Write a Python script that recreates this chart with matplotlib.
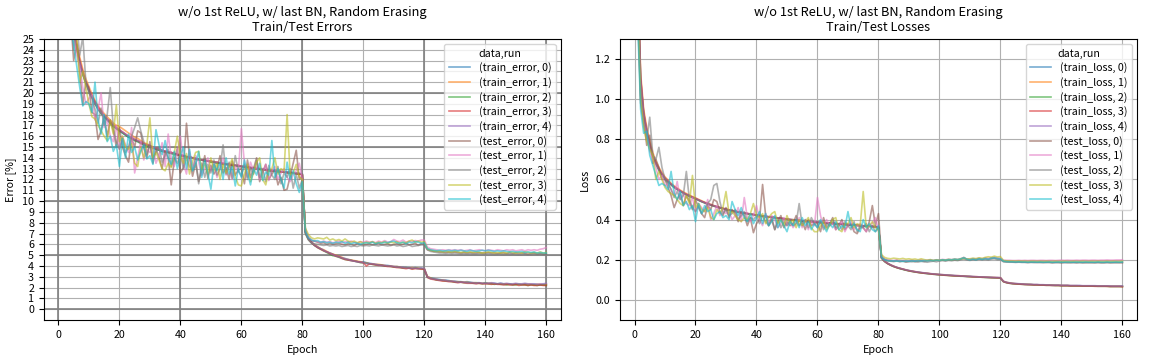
import numpy as np
import pandas as pd
import matplotlib
matplotlib.use('Agg')
import matplotlib.pyplot as plt

plt.rcParams['font.family'] = ['Noto Sans CJK JP', 'DejaVu Sans']
plt.rcParams['font.size'] = 7.7

# --- data ----------------------------------------------------------
epochs = np.arange(1, 161)
runs = [0, 1, 2, 3, 4]

train_error_0 = [
    55.2, 40.8, 33.1, 28.5, 25.8, 24.2, 22.8, 21.7, 20.9, 20.2,
    19.6, 19.0, 18.5, 18.1, 17.8, 17.5, 17.2, 16.9, 16.7, 16.5,
    16.3, 16.1, 15.9, 15.8, 15.6, 15.5, 15.4, 15.2, 15.1, 15.0,
    14.9, 14.8, 14.7, 14.6, 14.6, 14.5, 14.4, 14.4, 14.3, 14.2,
    14.2, 14.1, 14.0, 14.0, 13.9, 13.8, 13.8, 13.7, 13.7, 13.6,
    13.6, 13.5, 13.5, 13.4, 13.4, 13.4, 13.3, 13.3, 13.2, 13.2,
    13.2, 13.1, 13.1, 13.0, 13.0, 13.0, 12.9, 12.9, 12.9, 12.8,
    12.8, 12.8, 12.7, 12.7, 12.7, 12.6, 12.6, 12.6, 12.5, 12.5,
    7.1, 6.5, 6.2, 5.9, 5.75, 5.6, 5.45, 5.3, 5.2, 5.1,
    4.95, 4.85, 4.75, 4.7, 4.6, 4.55, 4.45, 4.4, 4.35, 4.4,
    4.3, 4.25, 4.2, 4.15, 4.1, 4.1, 4.05, 4.05, 4.0, 3.95,
    3.95, 3.9, 3.9, 3.85, 3.85, 3.8, 3.85, 3.8, 3.8, 3.75,
    3.0, 2.9, 2.85, 2.8, 2.75, 2.7, 2.7, 2.65, 2.6, 2.6,
    2.55, 2.55, 2.5, 2.55, 2.5, 2.45, 2.45, 2.45, 2.4, 2.45,
    2.4, 2.4, 2.4, 2.35, 2.4, 2.35, 2.35, 2.35, 2.3, 2.35,
    2.3, 2.3, 2.35, 2.3, 2.3, 2.3, 2.3, 2.25, 2.3, 2.3]
train_error_1 = [
    56.0, 41.5, 33.8, 29.2, 26.4, 24.8, 23.3, 22.2, 21.3, 20.6,
    19.9, 19.3, 18.8, 18.4, 18.1, 17.8, 17.5, 17.2, 17.0, 16.9,
    16.7, 16.5, 16.3, 16.1, 15.9, 15.8, 15.6, 15.4, 15.3, 15.1,
    15.0, 14.9, 14.8, 14.7, 14.6, 14.5, 14.5, 14.4, 14.3, 14.3,
    14.2, 14.1, 14.1, 14.0, 13.9, 13.9, 13.8, 13.8, 13.7, 13.7,
    13.6, 13.6, 13.5, 13.5, 13.4, 13.4, 13.3, 13.3, 13.3, 13.2,
    13.2, 13.1, 13.1, 13.1, 13.0, 13.0, 12.9, 12.9, 12.9, 12.8,
    12.8, 12.8, 12.7, 12.7, 12.7, 12.6, 12.6, 12.6, 12.5, 12.5,
    7.2, 6.55, 6.2, 6.0, 5.8, 5.6, 5.5, 5.35, 5.2, 5.1,
    5.0, 4.9, 4.8, 4.65, 4.6, 4.55, 4.5, 4.45, 4.4, 4.3,
    4.3, 4.2, 4.2, 4.15, 4.15, 4.1, 4.05, 4.0, 4.0, 3.95,
    3.95, 3.9, 3.85, 3.85, 3.8, 3.85, 3.8, 3.8, 3.75, 3.75,
    3.05, 2.9, 2.8, 2.75, 2.7, 2.7, 2.65, 2.6, 2.6, 2.55,
    2.55, 2.5, 2.5, 2.5, 2.45, 2.45, 2.45, 2.4, 2.4, 2.4,
    2.4, 2.4, 2.35, 2.35, 2.35, 2.35, 2.35, 2.3, 2.3, 2.3,
    2.3, 2.3, 2.3, 2.3, 2.3, 2.25, 2.3, 2.3, 2.25, 2.3]
train_error_2 = [
    54.5, 40.2, 32.8, 28.4, 25.7, 24.1, 22.8, 21.7, 20.9, 20.2,
    19.6, 19.0, 18.5, 18.1, 17.8, 17.5, 17.2, 16.9, 16.7, 16.5,
    16.3, 16.1, 15.9, 15.8, 15.6, 15.5, 15.3, 15.2, 15.1, 15.0,
    14.9, 14.8, 14.7, 14.6, 14.5, 14.5, 14.4, 14.3, 14.3, 14.2,
    14.1, 14.1, 14.0, 14.0, 13.9, 13.8, 13.8, 13.7, 13.7, 13.6,
    13.6, 13.5, 13.5, 13.4, 13.4, 13.3, 13.3, 13.3, 13.2, 13.2,
    13.1, 13.1, 13.1, 13.0, 13.0, 12.9, 12.9, 12.9, 12.8, 12.8,
    12.8, 12.7, 12.7, 12.7, 12.6, 12.6, 12.6, 12.5, 12.5, 12.5,
    7.0, 6.45, 6.15, 5.9, 5.7, 5.55, 5.4, 5.25, 5.1, 4.95,
    4.9, 4.8, 4.7, 4.6, 4.55, 4.5, 4.45, 4.4, 4.3, 4.3,
    4.25, 4.2, 4.15, 4.1, 4.1, 4.05, 4.0, 4.0, 3.95, 3.9,
    3.9, 3.85, 3.8, 3.85, 3.8, 3.75, 3.8, 3.75, 3.75, 3.7,
    2.95, 2.85, 2.8, 2.7, 2.7, 2.65, 2.6, 2.6, 2.55, 2.5,
    2.5, 2.5, 2.45, 2.45, 2.45, 2.4, 2.4, 2.4, 2.35, 2.4,
    2.35, 2.35, 2.3, 2.35, 2.3, 2.3, 2.25, 2.3, 2.25, 2.25,
    2.3, 2.25, 2.25, 2.2, 2.25, 2.25, 2.2, 2.25, 2.25, 2.2]
train_error_3 = [
    55.5, 40.6, 33.2, 28.7, 26.0, 24.4, 23.0, 21.9, 21.0, 20.3,
    19.7, 19.2, 18.7, 18.3, 17.9, 17.6, 17.3, 17.0, 16.8, 16.6,
    16.4, 16.2, 16.0, 15.9, 15.7, 15.6, 15.4, 15.3, 15.2, 15.1,
    15.0, 14.9, 14.8, 14.7, 14.6, 14.5, 14.5, 14.4, 14.3, 14.2,
    14.2, 14.1, 14.1, 14.0, 13.9, 13.9, 13.8, 13.8, 13.7, 13.7,
    13.6, 13.6, 13.5, 13.5, 13.4, 13.4, 13.3, 13.3, 13.3, 13.2,
    13.2, 13.1, 13.1, 13.0, 13.0, 13.0, 12.9, 12.9, 12.8, 12.8,
    12.8, 12.7, 12.7, 12.7, 12.6, 12.6, 12.6, 12.5, 12.5, 12.4,
    7.1, 6.5, 6.15, 5.9, 5.7, 5.55, 5.4, 5.3, 5.15, 5.05,
    4.9, 4.85, 4.7, 4.6, 4.55, 4.5, 4.45, 4.4, 4.35, 4.3,
    4.0, 4.2, 4.15, 4.1, 4.05, 4.05, 4.0, 3.95, 3.95, 3.9,
    3.85, 3.85, 3.8, 3.75, 3.8, 3.7, 3.75, 3.75, 3.7, 3.7,
    2.95, 2.8, 2.75, 2.7, 2.65, 2.6, 2.6, 2.55, 2.55, 2.5,
    2.45, 2.5, 2.45, 2.4, 2.4, 2.4, 2.35, 2.4, 2.35, 2.35,
    2.35, 2.3, 2.35, 2.3, 2.3, 2.25, 2.3, 2.25, 2.25, 2.3,
    2.2, 2.25, 2.25, 2.2, 2.25, 2.2, 2.2, 2.25, 2.2, 2.2]
train_error_4 = [
    55.0, 40.4, 33.0, 28.6, 25.9, 24.3, 22.9, 21.8, 21.0, 20.3,
    19.7, 19.1, 18.6, 18.2, 17.9, 17.6, 17.3, 17.0, 16.8, 16.6,
    16.4, 16.2, 16.0, 15.9, 15.7, 15.6, 15.5, 15.3, 15.2, 15.1,
    15.0, 14.9, 14.8, 14.7, 14.6, 14.6, 14.5, 14.4, 14.3, 14.3,
    14.2, 14.1, 14.1, 14.0, 13.9, 13.9, 13.8, 13.8, 13.7, 13.7,
    13.6, 13.6, 13.5, 13.5, 13.4, 13.4, 13.4, 13.3, 13.3, 13.2,
    13.2, 13.2, 13.1, 13.1, 13.0, 13.0, 13.0, 12.9, 12.9, 12.9,
    12.8, 12.8, 12.8, 12.7, 12.7, 12.7, 12.6, 12.6, 12.6, 12.5,
    7.1, 6.5, 6.2, 5.95, 5.75, 5.6, 5.45, 5.3, 5.2, 5.05,
    4.95, 4.85, 4.75, 4.65, 4.6, 4.5, 4.45, 4.4, 4.35, 4.3,
    4.25, 4.2, 4.2, 4.15, 4.1, 4.05, 4.05, 4.0, 4.0, 3.95,
    3.9, 3.9, 3.85, 3.85, 3.8, 3.8, 3.8, 3.75, 3.8, 3.75,
    3.0, 2.85, 2.8, 2.75, 2.7, 2.7, 2.65, 2.6, 2.6, 2.55,
    2.5, 2.5, 2.5, 2.45, 2.45, 2.45, 2.4, 2.45, 2.4, 2.4,
    2.4, 2.45, 2.4, 2.35, 2.4, 2.35, 2.4, 2.35, 2.35, 2.4,
    2.35, 2.35, 2.4, 2.35, 2.35, 2.35, 2.3, 2.35, 2.35, 2.4]

test_error_0 = [
    48.0, 37.5, 31.0, 27.0, 23.0, 24.5, 22.0, 18.9, 21.0, 20.5,
    18.2, 18.0, 15.7, 16.5, 17.8, 16.0, 17.5, 16.5, 15.0, 16.8,
    15.0, 14.2, 13.6, 15.8, 15.0, 16.5, 16.3, 14.9, 14.0, 15.5,
    13.5, 14.8, 14.1, 13.0, 14.6, 14.0, 11.5, 13.8, 14.9, 12.6,
    13.1, 17.2, 14.0, 12.3, 13.5, 11.8, 12.9, 14.2, 12.1, 13.3,
    12.5, 13.0, 14.2, 12.6, 13.1, 12.0, 13.7, 12.4, 12.9, 13.0,
    11.6, 13.8, 12.2, 13.0, 14.0, 11.8, 12.7, 13.4, 12.0, 12.5,
    12.9, 11.5, 12.2, 11.0, 11.1, 12.3, 13.5, 14.7, 12.0, 12.4,
    7.2, 6.6, 6.3, 6.3, 6.2, 6.1, 6.15, 6.0, 6.1, 6.0,
    6.05, 6.1, 6.0, 5.95, 6.05, 6.0, 5.9, 6.05, 6.0, 5.95,
    6.0, 6.05, 5.95, 6.0, 6.1, 5.95, 6.0, 6.05, 5.9, 6.0,
    6.05, 5.95, 6.0, 6.1, 5.95, 6.0, 6.1, 5.9, 6.05, 6.0,
    5.5, 5.45, 5.35, 5.35, 5.3, 5.3, 5.25, 5.3, 5.25, 5.3,
    5.25, 5.2, 5.25, 5.2, 5.25, 5.2, 5.2, 5.25, 5.2, 5.2,
    5.25, 5.2, 5.2, 5.15, 5.2, 5.2, 5.15, 5.2, 5.15, 5.2,
    5.15, 5.2, 5.15, 5.1, 5.15, 5.2, 5.1, 5.15, 5.1, 5.1]
test_error_1 = [
    50.0, 39.0, 31.5, 27.5, 25.5, 23.5, 22.5, 20.5, 19.0, 19.5,
    19.8, 17.5, 18.5, 20.0, 16.8, 17.5, 16.0, 15.5, 17.0, 14.8,
    16.0, 15.2, 14.5, 16.8, 12.6, 14.0, 15.5, 13.8, 14.8, 14.5,
    15.0, 13.5, 14.2, 15.4, 13.2, 16.2, 14.0, 13.2, 14.5, 16.0,
    13.5, 12.5, 14.6, 13.0, 14.2, 13.6, 12.4, 13.0, 14.0, 12.8,
    13.4, 12.2, 13.0, 14.0, 12.4, 13.5, 12.0, 13.2, 12.7, 16.7,
    13.5, 12.2, 13.6, 12.8, 13.2, 12.0, 12.6, 13.4, 11.9, 12.8,
    13.2, 12.0, 12.6, 13.0, 12.2, 11.8, 12.5, 12.8, 13.5, 12.0,
    7.4, 6.7, 6.4, 6.3, 6.25, 6.2, 6.3, 6.2, 6.25, 6.15,
    6.2, 6.3, 6.15, 6.25, 6.2, 6.3, 6.2, 6.1, 6.25, 6.2,
    6.3, 6.2, 6.25, 6.15, 6.3, 6.2, 6.35, 6.2, 6.25, 6.45,
    6.3, 6.25, 6.4, 6.2, 6.3, 6.25, 6.35, 6.3, 6.4, 6.4,
    5.75, 5.6, 5.55, 5.5, 5.45, 5.5, 5.45, 5.5, 5.45, 5.5,
    5.45, 5.5, 5.4, 5.45, 5.5, 5.4, 5.45, 5.5, 5.45, 5.4,
    5.5, 5.45, 5.4, 5.5, 5.45, 5.4, 5.5, 5.45, 5.5, 5.4,
    5.45, 5.5, 5.4, 5.5, 5.45, 5.5, 5.45, 5.55, 5.6, 5.7]
test_error_2 = [
    52.0, 39.5, 32.5, 27.0, 24.0, 26.5, 23.5, 25.2, 21.0, 20.0,
    19.5, 18.5, 17.2, 18.6, 17.0, 18.0, 20.5, 16.8, 15.5, 14.8,
    15.8, 14.5, 15.0, 16.0, 16.8, 17.7, 16.5, 15.5, 14.3, 15.2,
    14.0, 14.5, 15.0, 13.6, 14.2, 14.8, 13.2, 14.0, 13.5, 14.3,
    13.0, 14.0, 13.2, 12.8, 14.0, 11.6, 13.5, 12.2, 13.4, 12.6,
    13.8, 12.4, 13.0, 15.2, 12.5, 13.6, 12.1, 14.2, 12.8, 12.3,
    13.4, 12.0, 13.0, 12.5, 13.8, 12.2, 12.9, 11.8, 13.3, 12.4,
    12.0, 13.2, 11.6, 12.6, 12.2, 13.0, 11.2, 12.5, 11.2, 12.0,
    7.0, 6.4, 6.1, 6.05, 6.0, 5.95, 5.9, 5.95, 5.85, 5.9,
    5.85, 5.9, 5.8, 5.85, 5.9, 5.8, 5.85, 5.8, 5.9, 5.85,
    5.9, 5.85, 5.95, 5.9, 5.85, 5.95, 5.9, 5.85, 5.9, 5.95,
    5.85, 5.9, 5.8, 5.85, 5.95, 5.8, 5.85, 5.9, 5.95, 5.95,
    5.5, 5.35, 5.3, 5.25, 5.2, 5.2, 5.15, 5.2, 5.15, 5.2,
    5.15, 5.1, 5.15, 5.1, 5.15, 5.1, 5.1, 5.15, 5.1, 5.1,
    5.15, 5.1, 5.05, 5.1, 5.1, 5.05, 5.1, 5.05, 5.1, 5.05,
    5.0, 5.05, 5.1, 5.0, 5.05, 5.1, 5.05, 5.1, 5.05, 5.1]
test_error_3 = [
    51.0, 38.0, 31.0, 28.0, 26.0, 25.0, 21.0, 22.0, 20.5, 19.0,
    17.8, 17.6, 17.0, 16.5, 16.0, 15.6, 17.5, 16.2, 18.9, 15.5,
    16.0, 15.0, 14.8, 15.3, 13.5, 13.2, 15.0, 14.0, 15.2, 17.7,
    14.0, 14.5, 13.8, 13.0, 12.8, 13.5, 13.1, 14.5, 16.0, 14.2,
    13.5, 14.4, 12.5, 13.7, 14.5, 14.6, 12.9, 13.5, 12.5, 14.0,
    12.8, 13.5, 12.0, 13.4, 12.6, 13.2, 13.9, 12.3, 11.5, 11.4,
    12.5, 13.4, 11.8, 12.6, 13.6, 14.0, 12.0, 11.5, 12.8, 13.0,
    14.0, 12.5, 13.0, 12.8, 18.0, 12.4, 12.6, 13.4, 12.2, 12.0,
    7.5, 6.9, 6.6, 6.5, 6.6, 6.55, 6.5, 6.65, 6.4, 6.5,
    6.35, 6.45, 6.3, 6.5, 6.3, 6.2, 6.3, 6.15, 6.25, 6.1,
    6.2, 6.15, 6.25, 6.1, 6.2, 6.15, 6.25, 6.1, 6.2, 6.15,
    6.25, 6.1, 6.2, 6.15, 6.3, 6.4, 6.2, 6.3, 6.2, 6.25,
    5.6, 5.45, 5.4, 5.35, 5.35, 5.3, 5.35, 5.3, 5.3, 5.35,
    5.3, 5.25, 5.3, 5.25, 5.3, 5.25, 5.3, 5.25, 5.2, 5.25,
    5.3, 5.25, 5.2, 5.25, 5.2, 5.25, 5.2, 5.3, 5.25, 5.2,
    5.25, 5.2, 5.3, 5.25, 5.2, 5.25, 5.2, 5.3, 5.2, 5.25]
test_error_4 = [
    49.0, 38.5, 31.0, 26.0, 24.5, 22.5, 20.5, 18.8, 19.2, 19.0,
    18.2, 21.0, 17.5, 16.2, 18.0, 15.5, 16.0, 14.6, 15.2, 13.2,
    15.8, 14.0, 16.2, 14.5, 15.0, 13.8, 14.6, 15.2, 13.9, 14.2,
    13.4, 16.6, 15.2, 14.3, 15.6, 14.0, 13.4, 14.6, 13.0, 14.2,
    15.0, 13.0, 14.8, 12.8, 13.4, 14.6, 12.2, 13.8, 12.6, 11.1,
    13.4, 12.8, 13.6, 12.0, 14.0, 12.5, 13.2, 11.4, 13.0, 12.2,
    13.8, 12.6, 11.5, 13.0, 12.4, 13.5, 11.9, 12.7, 12.4, 15.6,
    12.2, 13.0, 12.0, 11.2, 13.6, 12.0, 12.8, 11.6, 10.8, 11.8,
    7.2, 6.6, 6.4, 6.3, 6.35, 6.2, 6.25, 6.15, 6.2, 6.1,
    6.2, 6.15, 6.25, 6.1, 6.2, 6.05, 6.15, 6.1, 6.0, 6.1,
    6.15, 6.1, 6.2, 6.05, 6.15, 6.1, 6.2, 6.15, 6.25, 6.3,
    6.15, 6.1, 6.2, 6.05, 6.2, 6.15, 6.25, 6.2, 6.1, 6.15,
    5.6, 5.5, 5.45, 5.4, 5.45, 5.4, 5.4, 5.45, 5.4, 5.45,
    5.4, 5.45, 5.4, 5.35, 5.45, 5.4, 5.35, 5.4, 5.45, 5.4,
    5.45, 5.4, 5.35, 5.4, 5.35, 5.4, 5.35, 5.3, 5.35, 5.3,
    5.3, 5.35, 5.25, 5.3, 5.25, 5.3, 5.2, 5.25, 5.2, 5.2]

train_loss_0 = [
    1.65, 1.1, 0.93, 0.84, 0.77, 0.72, 0.68, 0.65, 0.625, 0.605,
    0.59, 0.575, 0.562, 0.552, 0.542, 0.533, 0.525, 0.518, 0.511, 0.505,
    0.497, 0.49, 0.484, 0.478, 0.473, 0.468, 0.463, 0.459, 0.455, 0.451,
    0.447, 0.444, 0.441, 0.438, 0.435, 0.432, 0.43, 0.427, 0.425, 0.422,
    0.42, 0.418, 0.416, 0.414, 0.412, 0.41, 0.408, 0.406, 0.404, 0.402,
    0.4, 0.399, 0.397, 0.396, 0.394, 0.393, 0.391, 0.39, 0.389, 0.387,
    0.386, 0.385, 0.383, 0.382, 0.381, 0.38, 0.379, 0.377, 0.376, 0.375,
    0.374, 0.373, 0.372, 0.37, 0.369, 0.368, 0.367, 0.366, 0.365, 0.363,
    0.21, 0.193, 0.182, 0.174, 0.167, 0.162, 0.157, 0.153, 0.149, 0.146,
    0.143, 0.14, 0.138, 0.136, 0.134, 0.132, 0.13, 0.129, 0.127, 0.127,
    0.125, 0.124, 0.123, 0.122, 0.121, 0.12, 0.119, 0.118, 0.117, 0.117,
    0.116, 0.115, 0.114, 0.114, 0.113, 0.112, 0.112, 0.111, 0.111, 0.11,
    0.092, 0.087, 0.084, 0.082, 0.081, 0.08, 0.079, 0.078, 0.077, 0.077,
    0.076, 0.076, 0.075, 0.075, 0.074, 0.074, 0.073, 0.073, 0.073, 0.072,
    0.072, 0.072, 0.071, 0.071, 0.071, 0.071, 0.07, 0.07, 0.07, 0.07,
    0.07, 0.069, 0.069, 0.069, 0.069, 0.068, 0.068, 0.068, 0.068, 0.068]
train_loss_1 = [
    1.7, 1.13, 0.95, 0.86, 0.79, 0.735, 0.69, 0.66, 0.635, 0.613,
    0.597, 0.581, 0.568, 0.557, 0.547, 0.538, 0.53, 0.522, 0.515, 0.508,
    0.501, 0.494, 0.487, 0.481, 0.476, 0.47, 0.465, 0.461, 0.457, 0.453,
    0.449, 0.445, 0.442, 0.439, 0.436, 0.433, 0.431, 0.428, 0.426, 0.423,
    0.421, 0.419, 0.416, 0.414, 0.412, 0.41, 0.409, 0.407, 0.405, 0.403,
    0.401, 0.399, 0.398, 0.396, 0.395, 0.393, 0.392, 0.39, 0.389, 0.388,
    0.386, 0.385, 0.384, 0.383, 0.381, 0.38, 0.379, 0.378, 0.377, 0.375,
    0.374, 0.373, 0.372, 0.371, 0.37, 0.369, 0.367, 0.366, 0.365, 0.364,
    0.212, 0.195, 0.183, 0.175, 0.168, 0.162, 0.158, 0.154, 0.15, 0.146,
    0.144, 0.141, 0.138, 0.136, 0.134, 0.133, 0.131, 0.129, 0.128, 0.126,
    0.126, 0.124, 0.123, 0.122, 0.121, 0.121, 0.12, 0.119, 0.118, 0.117,
    0.116, 0.116, 0.115, 0.114, 0.113, 0.113, 0.112, 0.112, 0.111, 0.111,
    0.093, 0.088, 0.085, 0.083, 0.081, 0.08, 0.079, 0.078, 0.078, 0.077,
    0.076, 0.076, 0.075, 0.075, 0.074, 0.074, 0.074, 0.073, 0.073, 0.072,
    0.072, 0.072, 0.071, 0.071, 0.071, 0.07, 0.07, 0.07, 0.07, 0.07,
    0.069, 0.069, 0.069, 0.069, 0.068, 0.068, 0.068, 0.068, 0.068, 0.067]
train_loss_2 = [
    1.62, 1.08, 0.92, 0.83, 0.765, 0.715, 0.675, 0.645, 0.62, 0.6,
    0.586, 0.572, 0.559, 0.549, 0.54, 0.531, 0.523, 0.516, 0.509, 0.503,
    0.496, 0.489, 0.483, 0.477, 0.472, 0.467, 0.462, 0.458, 0.454, 0.45,
    0.446, 0.443, 0.44, 0.437, 0.434, 0.431, 0.429, 0.426, 0.424, 0.421,
    0.419, 0.417, 0.415, 0.413, 0.411, 0.409, 0.407, 0.405, 0.403, 0.401,
    0.399, 0.398, 0.396, 0.395, 0.393, 0.392, 0.39, 0.389, 0.388, 0.386,
    0.385, 0.384, 0.382, 0.381, 0.38, 0.379, 0.378, 0.376, 0.375, 0.374,
    0.373, 0.372, 0.371, 0.369, 0.368, 0.367, 0.366, 0.365, 0.364, 0.362,
    0.208, 0.191, 0.181, 0.173, 0.166, 0.161, 0.156, 0.152, 0.148, 0.145,
    0.142, 0.139, 0.137, 0.135, 0.133, 0.131, 0.13, 0.128, 0.127, 0.125,
    0.124, 0.123, 0.122, 0.121, 0.12, 0.119, 0.118, 0.118, 0.117, 0.116,
    0.115, 0.114, 0.114, 0.113, 0.112, 0.112, 0.111, 0.11, 0.11, 0.109,
    0.091, 0.086, 0.083, 0.081, 0.08, 0.079, 0.078, 0.077, 0.077, 0.076,
    0.075, 0.075, 0.074, 0.074, 0.073, 0.073, 0.073, 0.072, 0.072, 0.071,
    0.071, 0.071, 0.07, 0.07, 0.07, 0.07, 0.069, 0.069, 0.069, 0.069,
    0.069, 0.068, 0.068, 0.068, 0.068, 0.067, 0.067, 0.067, 0.067, 0.067]
train_loss_3 = [
    1.67, 1.11, 0.935, 0.845, 0.775, 0.722, 0.682, 0.652, 0.627, 0.607,
    0.591, 0.577, 0.564, 0.553, 0.543, 0.534, 0.526, 0.519, 0.512, 0.506,
    0.498, 0.491, 0.485, 0.479, 0.474, 0.469, 0.464, 0.46, 0.456, 0.452,
    0.448, 0.444, 0.441, 0.438, 0.435, 0.433, 0.43, 0.428, 0.425, 0.423,
    0.42, 0.418, 0.416, 0.414, 0.412, 0.41, 0.408, 0.406, 0.404, 0.402,
    0.4, 0.399, 0.397, 0.395, 0.394, 0.392, 0.391, 0.39, 0.388, 0.387,
    0.386, 0.384, 0.383, 0.382, 0.381, 0.379, 0.378, 0.377, 0.376, 0.375,
    0.374, 0.372, 0.371, 0.37, 0.369, 0.368, 0.367, 0.366, 0.364, 0.363,
    0.209, 0.192, 0.181, 0.173, 0.167, 0.161, 0.157, 0.153, 0.149, 0.145,
    0.142, 0.14, 0.137, 0.135, 0.133, 0.132, 0.13, 0.128, 0.127, 0.126,
    0.124, 0.123, 0.122, 0.121, 0.12, 0.12, 0.119, 0.118, 0.117, 0.116,
    0.115, 0.115, 0.114, 0.113, 0.113, 0.112, 0.111, 0.111, 0.11, 0.11,
    0.091, 0.086, 0.083, 0.081, 0.08, 0.079, 0.078, 0.077, 0.076, 0.076,
    0.075, 0.075, 0.074, 0.074, 0.073, 0.073, 0.072, 0.072, 0.072, 0.071,
    0.071, 0.071, 0.07, 0.07, 0.07, 0.07, 0.069, 0.069, 0.069, 0.069,
    0.068, 0.068, 0.068, 0.068, 0.068, 0.067, 0.067, 0.067, 0.067, 0.066]
train_loss_4 = [
    1.64, 1.1, 0.93, 0.84, 0.772, 0.72, 0.681, 0.65, 0.626, 0.606,
    0.59, 0.576, 0.563, 0.552, 0.542, 0.533, 0.525, 0.518, 0.511, 0.505,
    0.498, 0.491, 0.485, 0.479, 0.474, 0.469, 0.464, 0.46, 0.456, 0.452,
    0.448, 0.445, 0.442, 0.439, 0.436, 0.433, 0.431, 0.428, 0.426, 0.423,
    0.421, 0.419, 0.417, 0.415, 0.413, 0.411, 0.409, 0.407, 0.405, 0.403,
    0.401, 0.4, 0.398, 0.397, 0.395, 0.394, 0.392, 0.391, 0.39, 0.388,
    0.387, 0.386, 0.384, 0.383, 0.382, 0.381, 0.38, 0.378, 0.377, 0.376,
    0.375, 0.374, 0.373, 0.371, 0.37, 0.369, 0.368, 0.367, 0.366, 0.364,
    0.211, 0.194, 0.183, 0.175, 0.168, 0.163, 0.158, 0.154, 0.15, 0.147,
    0.144, 0.141, 0.139, 0.137, 0.135, 0.133, 0.131, 0.13, 0.128, 0.127,
    0.126, 0.125, 0.124, 0.123, 0.122, 0.121, 0.12, 0.119, 0.118, 0.118,
    0.117, 0.116, 0.115, 0.115, 0.114, 0.113, 0.113, 0.112, 0.112, 0.111,
    0.093, 0.088, 0.085, 0.083, 0.082, 0.081, 0.08, 0.079, 0.078, 0.078,
    0.077, 0.077, 0.076, 0.076, 0.075, 0.075, 0.074, 0.074, 0.074, 0.073,
    0.073, 0.073, 0.072, 0.072, 0.072, 0.072, 0.071, 0.071, 0.071, 0.071,
    0.071, 0.07, 0.07, 0.07, 0.07, 0.07, 0.069, 0.069, 0.069, 0.07]

test_loss_0 = [
    1.45, 0.98, 0.9, 0.77, 0.82, 0.68, 0.7, 0.66, 0.6, 0.6,
    0.56, 0.52, 0.46, 0.5, 0.53, 0.47, 0.52, 0.49, 0.45, 0.5,
    0.46, 0.43, 0.41, 0.47, 0.45, 0.5, 0.49, 0.44, 0.42, 0.46,
    0.41, 0.45, 0.43, 0.39, 0.44, 0.42, 0.37, 0.41, 0.335, 0.38,
    0.4, 0.575, 0.42, 0.37, 0.4, 0.35, 0.39, 0.42, 0.36, 0.39,
    0.37, 0.38, 0.42, 0.37, 0.39, 0.35, 0.4, 0.37, 0.38, 0.38,
    0.34, 0.41, 0.36, 0.38, 0.41, 0.35, 0.37, 0.4, 0.35, 0.37,
    0.38, 0.34, 0.33, 0.36, 0.36, 0.34, 0.39, 0.47, 0.37, 0.43,
    0.215, 0.202, 0.196, 0.195, 0.193, 0.197, 0.192, 0.194, 0.19, 0.192,
    0.195, 0.19, 0.193, 0.196, 0.192, 0.195, 0.197, 0.194, 0.198, 0.196,
    0.199, 0.197, 0.2, 0.198, 0.201, 0.199, 0.203, 0.212, 0.202, 0.2,
    0.203, 0.201, 0.205, 0.202, 0.206, 0.203, 0.207, 0.21, 0.205, 0.204,
    0.192, 0.19, 0.19, 0.189, 0.188, 0.189, 0.188, 0.188, 0.187, 0.188,
    0.188, 0.187, 0.188, 0.187, 0.187, 0.188, 0.186, 0.187, 0.187, 0.186,
    0.187, 0.187, 0.186, 0.187, 0.186, 0.187, 0.186, 0.186, 0.187, 0.186,
    0.186, 0.187, 0.186, 0.186, 0.187, 0.186, 0.186, 0.187, 0.186, 0.186]
test_loss_1 = [
    1.5, 1.0, 0.88, 0.82, 0.74, 0.7, 0.66, 0.6, 0.62, 0.57,
    0.58, 0.55, 0.52, 0.59, 0.5, 0.53, 0.48, 0.47, 0.51, 0.44,
    0.48, 0.46, 0.44, 0.5, 0.4, 0.43, 0.47, 0.42, 0.45, 0.43,
    0.44, 0.4, 0.42, 0.46, 0.39, 0.51, 0.41, 0.39, 0.42, 0.47,
    0.4, 0.37, 0.43, 0.38, 0.42, 0.4, 0.36, 0.38, 0.41, 0.37,
    0.39, 0.36, 0.38, 0.41, 0.36, 0.4, 0.35, 0.39, 0.37, 0.51,
    0.42, 0.36, 0.4, 0.37, 0.38, 0.35, 0.37, 0.39, 0.34, 0.37,
    0.39, 0.35, 0.37, 0.38, 0.36, 0.34, 0.37, 0.38, 0.41, 0.35,
    0.22, 0.205, 0.2, 0.198, 0.196, 0.199, 0.195, 0.197, 0.195, 0.196,
    0.198, 0.195, 0.197, 0.199, 0.196, 0.198, 0.2, 0.197, 0.2, 0.199,
    0.202, 0.2, 0.203, 0.201, 0.204, 0.202, 0.206, 0.208, 0.204, 0.203,
    0.206, 0.204, 0.208, 0.205, 0.209, 0.207, 0.21, 0.212, 0.209, 0.208,
    0.198, 0.197, 0.197, 0.196, 0.196, 0.197, 0.196, 0.197, 0.196, 0.197,
    0.197, 0.196, 0.197, 0.197, 0.196, 0.197, 0.197, 0.196, 0.197, 0.198,
    0.197, 0.198, 0.197, 0.197, 0.198, 0.197, 0.198, 0.198, 0.197, 0.198,
    0.198, 0.197, 0.198, 0.198, 0.199, 0.198, 0.198, 0.199, 0.199, 0.2]
test_loss_2 = [
    1.55, 1.02, 0.88, 0.8, 0.91, 0.72, 0.7, 0.76, 0.66, 0.6,
    0.58, 0.55, 0.51, 0.54, 0.5, 0.52, 0.64, 0.5, 0.46, 0.44,
    0.47, 0.43, 0.45, 0.48, 0.5, 0.57, 0.58, 0.49, 0.43, 0.45,
    0.42, 0.43, 0.45, 0.4, 0.42, 0.44, 0.39, 0.41, 0.4, 0.42,
    0.38, 0.42, 0.39, 0.37, 0.41, 0.35, 0.4, 0.36, 0.39, 0.37,
    0.4, 0.37, 0.38, 0.48, 0.37, 0.4, 0.36, 0.41, 0.38, 0.36,
    0.39, 0.35, 0.38, 0.37, 0.4, 0.36, 0.38, 0.35, 0.39, 0.37,
    0.35, 0.39, 0.34, 0.37, 0.36, 0.38, 0.34, 0.37, 0.34, 0.36,
    0.21, 0.2, 0.195, 0.193, 0.191, 0.194, 0.19, 0.193, 0.189, 0.191,
    0.19, 0.193, 0.189, 0.192, 0.19, 0.188, 0.191, 0.193, 0.19, 0.194,
    0.196, 0.193, 0.197, 0.195, 0.198, 0.196, 0.2, 0.203, 0.199, 0.197,
    0.2, 0.198, 0.202, 0.199, 0.201, 0.198, 0.203, 0.205, 0.2, 0.2,
    0.19, 0.189, 0.188, 0.188, 0.187, 0.188, 0.187, 0.187, 0.186, 0.187,
    0.186, 0.187, 0.186, 0.186, 0.187, 0.186, 0.185, 0.186, 0.186, 0.185,
    0.186, 0.185, 0.186, 0.186, 0.185, 0.186, 0.185, 0.186, 0.185, 0.186,
    0.185, 0.186, 0.185, 0.185, 0.186, 0.185, 0.186, 0.185, 0.186, 0.186]
test_loss_3 = [
    1.5, 1.0, 0.86, 0.79, 0.75, 0.72, 0.6, 0.64, 0.6, 0.56,
    0.54, 0.53, 0.52, 0.5, 0.48, 0.47, 0.52, 0.48, 0.62, 0.46,
    0.48, 0.45, 0.44, 0.46, 0.41, 0.4, 0.45, 0.43, 0.46, 0.54,
    0.43, 0.44, 0.42, 0.4, 0.39, 0.41, 0.4, 0.43, 0.48, 0.42,
    0.41, 0.43, 0.38, 0.41, 0.43, 0.44, 0.38, 0.4, 0.37, 0.42,
    0.38, 0.4, 0.36, 0.4, 0.37, 0.39, 0.41, 0.36, 0.34, 0.34,
    0.37, 0.39, 0.35, 0.37, 0.4, 0.41, 0.35, 0.34, 0.38, 0.38,
    0.41, 0.36, 0.38, 0.37, 0.54, 0.36, 0.37, 0.39, 0.36, 0.35,
    0.225, 0.212, 0.207, 0.205, 0.208, 0.206, 0.204, 0.207, 0.203, 0.205,
    0.202, 0.204, 0.2, 0.205, 0.201, 0.198, 0.201, 0.197, 0.2, 0.198,
    0.2, 0.199, 0.202, 0.2, 0.203, 0.201, 0.205, 0.207, 0.204, 0.205,
    0.208, 0.206, 0.21, 0.207, 0.212, 0.215, 0.213, 0.218, 0.214, 0.216,
    0.196, 0.195, 0.194, 0.194, 0.193, 0.194, 0.193, 0.193, 0.192, 0.193,
    0.193, 0.192, 0.193, 0.192, 0.193, 0.192, 0.192, 0.193, 0.192, 0.192,
    0.193, 0.192, 0.192, 0.193, 0.192, 0.192, 0.193, 0.192, 0.192, 0.193,
    0.192, 0.193, 0.192, 0.192, 0.193, 0.192, 0.193, 0.192, 0.192, 0.193]
test_loss_4 = [
    1.4, 0.95, 0.83, 0.84, 0.72, 0.67, 0.62, 0.57, 0.58, 0.57,
    0.55, 0.64, 0.53, 0.5, 0.54, 0.47, 0.49, 0.45, 0.47, 0.39,
    0.48, 0.43, 0.47, 0.44, 0.45, 0.4, 0.43, 0.44, 0.41, 0.42,
    0.4, 0.49, 0.45, 0.42, 0.46, 0.41, 0.39, 0.43, 0.38, 0.41,
    0.44, 0.38, 0.43, 0.37, 0.39, 0.42, 0.36, 0.4, 0.37, 0.34,
    0.39, 0.37, 0.4, 0.36, 0.41, 0.37, 0.39, 0.35, 0.38, 0.36,
    0.4, 0.37, 0.34, 0.38, 0.36, 0.39, 0.35, 0.37, 0.36, 0.44,
    0.36, 0.38, 0.35, 0.34, 0.4, 0.36, 0.38, 0.35, 0.34, 0.37,
    0.212, 0.2, 0.196, 0.194, 0.195, 0.193, 0.194, 0.192, 0.194, 0.193,
    0.195, 0.193, 0.196, 0.194, 0.196, 0.195, 0.197, 0.196, 0.198, 0.197,
    0.2, 0.198, 0.201, 0.2, 0.203, 0.201, 0.205, 0.21, 0.203, 0.2,
    0.203, 0.2, 0.205, 0.202, 0.206, 0.203, 0.208, 0.21, 0.206, 0.205,
    0.193, 0.191, 0.19, 0.19, 0.189, 0.19, 0.189, 0.189, 0.188, 0.189,
    0.189, 0.188, 0.189, 0.188, 0.188, 0.189, 0.188, 0.188, 0.189, 0.188,
    0.188, 0.189, 0.188, 0.188, 0.189, 0.188, 0.188, 0.189, 0.188, 0.188,
    0.188, 0.189, 0.188, 0.188, 0.189, 0.188, 0.188, 0.189, 0.188, 0.189]

train_errors = [train_error_0, train_error_1, train_error_2, train_error_3, train_error_4]
test_errors = [test_error_0, test_error_1, test_error_2, test_error_3, test_error_4]
train_losses = [train_loss_0, train_loss_1, train_loss_2, train_loss_3, train_loss_4]
test_losses = [test_loss_0, test_loss_1, test_loss_2, test_loss_3, test_loss_4]

title_top = 'w/o 1st ReLU, w/ last BN, Random Erasing'


def make_frame(train, test, train_name, test_name):
    cols = {}
    for r, vals in zip(runs, train):
        cols[(train_name, r)] = vals
    for r, vals in zip(runs, test):
        cols[(test_name, r)] = vals
    df = pd.DataFrame(cols, index=epochs)
    df.columns = pd.MultiIndex.from_tuples(df.columns, names=['data', 'run'])
    return df


errors = make_frame(train_errors, test_errors, 'train_error', 'test_error')
losses = make_frame(train_losses, test_losses, 'train_loss', 'test_loss')

fig, (ax, ax1) = plt.subplots(1, 2, figsize=(11.52, 3.6), dpi=100)
plt.subplots_adjust(left=0.038, right=0.987, bottom=0.111, top=0.892, wspace=0.114)

# --- errors ---
errors.plot(ax=ax, alpha=0.6, linewidth=1.2)
ax.set_xlim(-4.8, 164.8)
ax.set_ylim(-1, 25)
ax.set_yticks(range(0, 26))
ax.set_xticks(range(0, 161, 20))
ax.grid(True, color='#b0b0b0', linewidth=0.8)
for v in range(0, 26, 5):
    ax.axhline(v, color='#808080', linewidth=1.2, zorder=1.6)
for v in range(0, 161, 40):
    ax.axvline(v, color='#808080', linewidth=1.2, zorder=1.6)
ax.set_xlabel('Epoch')
ax.set_ylabel('Error [%]')
ax.set_title(title_top + '\nTrain/Test Errors')
ax.legend(title='data,run', loc='upper right', labelspacing=0.35)

# --- losses ---
losses.plot(ax=ax1, alpha=0.6, linewidth=1.2)
ax1.set_xlim(-4.8, 164.8)
ax1.set_ylim(-0.1, 1.3)
ax1.set_xticks(range(0, 161, 20))
ax1.grid(True, color='#b0b0b0', linewidth=0.8)
ax1.set_xlabel('Epoch')
ax1.set_ylabel('Loss')
ax1.set_title(title_top + '\nTrain/Test Losses')
ax1.legend(title='data,run', loc='upper right', labelspacing=0.35)

plt.savefig('out.png', dpi=100)
